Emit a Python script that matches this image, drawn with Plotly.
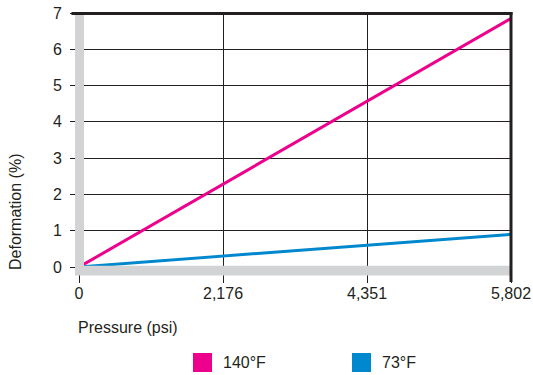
import numpy as np
import plotly.graph_objects as go

# ---- data ----
pressure_psi = [0, 5802]
deformation_140F = [0, 6.85]
deformation_73F = [0, 0.9]
x_tick_psi = [0, 2176, 4351, 5802]
x_tick_labels = ["0", "2,176", "4,351", "5,802"]
y_tick_vals = [0, 1, 2, 3, 4, 5, 6, 7]
series_names = ["140°F", "73°F"]
series_colors = ["#ec008c", "#0088ce"]

# schematic x axis: ticks evenly spaced
tick_pos = list(range(len(x_tick_psi)))
x_pos = np.interp(pressure_psi, x_tick_psi, tick_pos)

INK = "#231f20"
GRAY = "#d1d3d4"
FONT = "Liberation Sans, Arial, sans-serif"

W, H = 533, 375
L, R, T, B = 79, 22, 13, 108
pw, ph = W - L - R, H - T - B


def px_x(p):
    return (p - L) / pw


def px_y(p):
    return (H - B - p) / ph


fig = go.Figure()
for name, ys, col in zip(series_names, [deformation_140F, deformation_73F], series_colors):
    fig.add_trace(go.Scatter(x=x_pos, y=ys, mode="lines", name=name,
                             line=dict(color=col, width=3), showlegend=False,
                             hoverinfo="skip"))

shapes = [
    # gray left band
    dict(type="rect", xref="paper", yref="paper", x0=px_x(75), x1=px_x(84),
         y0=px_y(275), y1=px_y(14), fillcolor=GRAY, line=dict(width=0), layer="above"),
    # gray bottom band
    dict(type="rect", xref="paper", yref="paper", x0=px_x(75), x1=px_x(510),
         y0=px_y(275.5), y1=px_y(265.7), fillcolor=GRAY, line=dict(width=0), layer="above"),
    # black top border
    dict(type="line", xref="paper", yref="paper", x0=px_x(71.5), x1=px_x(512.5),
         y0=px_y(13.5), y1=px_y(13.5), line=dict(color=INK, width=3), layer="above"),
    # black right border
    dict(type="line", xref="paper", yref="paper", x0=px_x(511), x1=px_x(511),
         y0=px_y(12), y1=px_y(282), line=dict(color=INK, width=3), layer="above"),
]

annotations = [
    dict(text="Deformation (%)", xref="paper", yref="paper", x=px_x(16), y=px_y(212),
         textangle=-90, showarrow=False, font=dict(size=16, color=INK, family=FONT),
         xanchor="center", yanchor="middle"),
    dict(text="Pressure (psi)", xref="paper", yref="paper", x=px_x(76), y=px_y(327),
         showarrow=False, font=dict(size=16, color=INK, family=FONT),
         xanchor="left", yanchor="middle"),
]

# manual legend
leg_x = [193, 352]
for lx, name, col in zip(leg_x, series_names, series_colors):
    shapes.append(dict(type="rect", xref="paper", yref="paper", x0=px_x(lx), x1=px_x(lx + 19),
                       y0=px_y(372), y1=px_y(353), fillcolor=col, line=dict(width=0)))
    annotations.append(dict(text=name, xref="paper", yref="paper", x=px_x(lx + 28), y=px_y(362.5),
                            showarrow=False, xanchor="left", yanchor="middle",
                            font=dict(size=16, color=INK, family=FONT)))

fig.update_layout(
    width=W, height=H,
    margin=dict(l=L, r=R, t=T, b=B, pad=0, autoexpand=False),
    paper_bgcolor="white", plot_bgcolor="white",
    font=dict(family=FONT, size=16, color=INK),
    shapes=shapes, annotations=annotations,
    showlegend=False,
)
fig.update_xaxes(range=[0, 3], tickvals=tick_pos, ticktext=x_tick_labels,
                 showgrid=True, gridcolor=INK, gridwidth=1, zeroline=False,
                 ticks="outside", ticklen=15, tickcolor=INK, tickwidth=1,
                 ticklabelstandoff=-3,
                 automargin=False, showline=False,
                 tickfont=dict(size=16, color=INK, family=FONT))
fig.update_yaxes(range=[0, 7], tickvals=y_tick_vals,
                 showgrid=True, gridcolor=INK, gridwidth=1, zeroline=False,
                 ticks="outside", ticklen=8, tickcolor=INK, tickwidth=1,
                 ticklabelstandoff=5,
                 automargin=False, showline=False,
                 tickfont=dict(size=16, color=INK, family=FONT))

fig.write_html("out.html", config={"displayModeBar": False},
               post_script="document.body.style.margin='0';document.body.style.overflow='hidden';")
